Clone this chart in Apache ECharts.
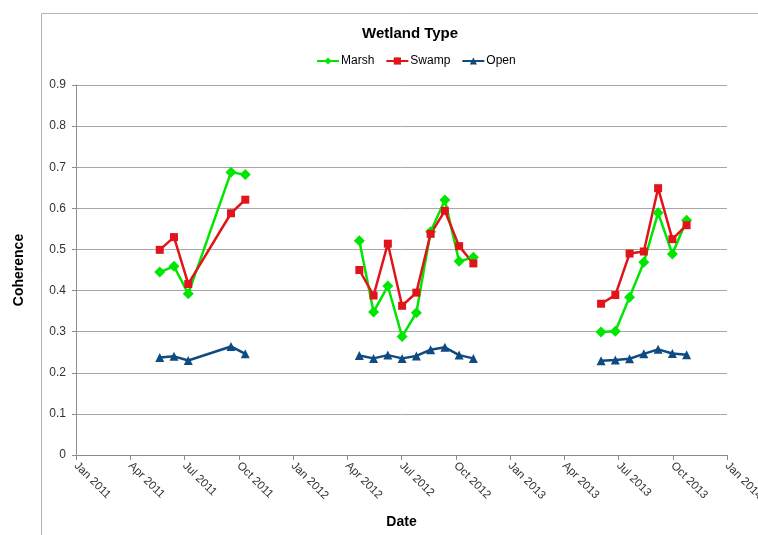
<!DOCTYPE html>
<html><head><meta charset="utf-8">
<script src="https://cdn.jsdelivr.net/npm/echarts@6/dist/echarts.min.js"></script>
<style>html,body{margin:0;padding:0;background:#fff}#c{width:758px;height:535px}</style>
</head><body><div id="c"></div>
<script>
// Acquisition dates (null entries break the line between seasons)
const dates = ['2011-05-22','2011-06-15','2011-07-09','2011-09-19','2011-10-13',
  '2012-01-15',
  '2012-04-22','2012-05-16','2012-06-09','2012-07-03','2012-07-27','2012-08-20','2012-09-13','2012-10-07','2012-10-31',
  '2013-01-15',
  '2013-06-03','2013-06-27','2013-07-21','2013-08-14','2013-09-07','2013-10-01','2013-10-25'];
const marsh = [0.445,0.459,0.392,0.688,0.682, null,
  0.521,0.348,0.411,0.288,0.346,0.543,0.620,0.471,0.481, null,
  0.299,0.301,0.384,0.469,0.589,0.489,0.571];
const swamp = [0.499,0.530,0.416,0.588,0.621, null,
  0.450,0.388,0.514,0.363,0.395,0.538,0.594,0.508,0.466, null,
  0.368,0.389,0.490,0.495,0.649,0.525,0.559];
const openW = [0.237,0.240,0.230,0.264,0.246, null,
  0.242,0.235,0.243,0.235,0.241,0.256,0.262,0.243,0.235, null,
  0.229,0.231,0.234,0.246,0.257,0.247,0.244];
const tickLabels = ['Jan 2011','Apr 2011','Jul 2011','Oct 2011','Jan 2012','Apr 2012','Jul 2012','Oct 2012','Jan 2013','Apr 2013','Jul 2013','Oct 2013','Jan 2014'];

const DAY = 86400000;
const origin = Date.UTC(2011,0,1);
const endDay = (Date.UTC(2014,0,1) - origin) / DAY; // 1096
function dayOf(s){ const p = s.split('-').map(Number); return (Date.UTC(p[0],p[1]-1,p[2]) - origin)/DAY; }
function pairs(vals){ return dates.map((d,i)=>[dayOf(d), vals[i]==null ? '-' : vals[i]]); }

const font = 'Liberation Sans, Arial, sans-serif';
const chart = echarts.init(document.getElementById('c'));
chart.setOption({
  animation:false,
  graphic:[{type:'rect', shape:{x:41.5,y:13.5,width:800,height:700}, style:{fill:'none', stroke:'#b4b4b4', lineWidth:1}}],
  title:{text:'Wetland Type', left:357, top:21, textStyle:{fontFamily:font, fontSize:15, fontWeight:'bold', color:'#000'}},
  legend:{left:311, top:50, itemWidth:22, itemHeight:9, itemGap:11,
    textStyle:{fontFamily:font, fontSize:12, color:'#000', padding:[0,0,0,-3]},
    data:['Marsh','Swamp','Open']},
  grid:{left:76, right:31, top:85, bottom:80, outerBoundsMode:'none', containLabel:false},
  xAxis:{type:'value', min:0, max:endDay, interval:endDay/12,
    name:'Date', nameLocation:'middle', nameGap:60,
    nameTextStyle:{fontFamily:font, fontSize:14, fontWeight:'bold', color:'#000'},
    axisLine:{show:true, lineStyle:{color:'#8c8c8c'}},
    axisTick:{show:true, length:5, lineStyle:{color:'#8c8c8c'}},
    splitLine:{show:false},
    axisLabel:{rotate:-45, margin:9, fontFamily:font, fontSize:11.5, color:'#333',
      formatter:(v)=>tickLabels[Math.round(v/(endDay/12))]}},
  yAxis:{type:'value', min:0, max:0.9, interval:0.1,
    name:'Coherence', nameLocation:'middle', nameGap:50, nameRotate:90,
    nameTextStyle:{fontFamily:font, fontSize:14, fontWeight:'bold', color:'#000'},
    axisLine:{show:true, lineStyle:{color:'#8c8c8c'}},
    axisTick:{show:true, length:4, inside:false, lineStyle:{color:'#8c8c8c'}},
    splitLine:{show:true, lineStyle:{color:'#a6a6a6', width:1}},
    axisLabel:{margin:10, fontFamily:font, fontSize:12, color:'#333',
      formatter:(v)=> v===0 ? '0' : v.toFixed(1)}},
  series:[
    {name:'Marsh', type:'line', data:pairs(marsh), symbol:'diamond', symbolSize:11,
      itemStyle:{color:'#00e600'}, lineStyle:{color:'#00e600', width:2.5}, connectNulls:false},
    {name:'Swamp', type:'line', data:pairs(swamp), symbol:'rect', symbolSize:8,
      itemStyle:{color:'#e0141a'}, lineStyle:{color:'#e0141a', width:2.5}, connectNulls:false},
    {name:'Open', type:'line', data:pairs(openW), symbol:'triangle', symbolSize:9,
      itemStyle:{color:'#0f4a80'}, lineStyle:{color:'#0f4a80', width:2.5}, connectNulls:false}
  ]
});
</script></body></html>
